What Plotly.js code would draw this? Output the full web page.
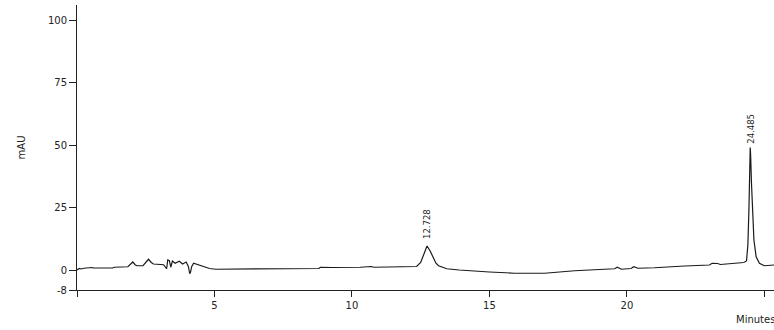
<!DOCTYPE html>
<html>
<head>
<meta charset="utf-8">
<script src="https://cdn.plot.ly/plotly-3.0.1.min.js"></script>
<style>html,body{margin:0;padding:0;background:#fff;}#chart{width:774px;height:330px;}</style>
</head>
<body>
<div id="chart"></div>
<script>
// Retention time (minutes)
var time = [0.00,0.08,0.15,0.25,0.55,0.60,1.30,1.35,1.85,1.95,2.03,2.12,2.18,2.40,2.52,2.60,2.70,2.78,3.15,3.22,3.26,3.30,3.36,3.41,3.47,3.57,3.72,3.84,3.97,4.05,4.10,4.13,4.17,4.24,4.40,4.57,4.82,5.05,5.35,5.40,5.50,7.00,7.05,7.10,7.30,7.40,7.60,8.80,8.85,9.30,10.30,10.70,10.80,11.80,12.35,12.50,12.60,12.73,12.85,12.95,13.05,13.15,13.30,13.45,13.90,14.50,15.00,15.60,15.90,17.00,17.50,18.10,19.00,19.55,19.65,19.80,20.15,20.25,20.40,21.00,22.10,23.00,23.10,23.30,23.40,24.25,24.35,24.40,24.44,24.47,24.485,24.50,24.53,24.57,24.62,24.70,24.82,25.00,25.35];
// Detector signal (mAU)
var signal = [0.0,0.6,0.4,0.7,1.0,0.8,0.8,1.1,1.3,2.2,3.2,2.0,1.7,1.7,3.2,4.3,3.0,2.4,2.1,0.7,0.5,4.0,3.7,1.1,3.6,2.7,3.5,2.4,3.2,1.4,-1.5,-0.8,1.3,2.7,2.1,1.3,0.6,0.3,0.3,0.6,0.3,0.3,0.6,0.3,0.6,0.3,0.5,0.6,1.1,1.0,1.1,1.4,1.1,1.3,1.4,3.0,6.0,9.6,7.5,5.0,2.8,1.7,1.0,0.5,0.0,-0.5,-0.8,-1.1,-1.3,-1.3,-0.8,-0.3,0.2,0.5,1.1,0.3,0.6,1.3,0.7,0.9,1.6,2.0,2.7,2.6,2.2,3.0,3.6,10.0,25.0,40.0,49.0,46.0,35.0,21.0,12.0,5.3,2.7,1.7,2.0];
// Labelled peaks
var peakTimes = [12.728, 24.485];
var peakHeights = [9.6, 49.0];
var peakLabels = ["12.728", "24.485"];
// Axis ticks
var xTickVals = [0, 5, 10, 15, 20, 25];
var xTickText = ["", "5", "10", "15", "20", ""];
var yTickVals = [-8, 0, 25, 50, 75, 100];
var yTickText = ["-8", "0", "25", "50", "75", "100"];

var font = {family: "DejaVu Sans", size: 10, color: "#222"};

var trace = {
  x: time, y: signal, type: "scatter", mode: "lines",
  line: {color: "#1a1a1a", width: 1.2}, hoverinfo: "skip"
};

var annotations = peakTimes.map(function(t, i) {
  return {x: t, y: peakHeights[i], xref: "x", yref: "y", text: peakLabels[i],
    showarrow: false, textangle: -90, xanchor: "center", yanchor: "bottom",
    yshift: i === 0 ? 5 : 2, font: {family: "DejaVu Sans", size: 8.5, color: "#222"}};
});
annotations.push({x: 1, y: 0, xref: "paper", yref: "paper", text: "Minutes",
  showarrow: false, xanchor: "right", yanchor: "top", xshift: 3, yshift: -22,
  font: font});

var layout = {
  width: 774, height: 330,
  margin: {l: 77, r: 0, t: 5, b: 40},
  paper_bgcolor: "#fff", plot_bgcolor: "#fff",
  showlegend: false,
  font: font,
  xaxis: {range: [0, 25.35], showline: true, linecolor: "#222", linewidth: 1,
    showgrid: false, zeroline: false, ticks: "outside", ticklen: 6, tickcolor: "#222",
    tickvals: xTickVals, ticktext: xTickText, tickfont: font},
  yaxis: {range: [-8, 106], showline: true, linecolor: "#222", linewidth: 1,
    showgrid: false, zeroline: false, ticks: "outside", ticklen: 7, tickcolor: "#222",
    tickvals: yTickVals, ticktext: yTickText, tickfont: font,
    title: {text: "mAU", font: font, standoff: 20}},
  annotations: annotations
};

Plotly.newPlot("chart", [trace], layout, {staticPlot: true, displayModeBar: false});
</script>
</body>
</html>
